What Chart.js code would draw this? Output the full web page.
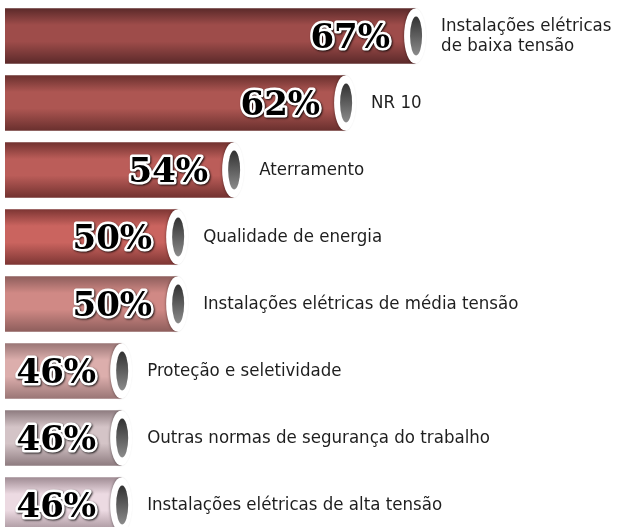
<!DOCTYPE html>
<html>
<head>
<meta charset="utf-8">
<script src="https://cdn.jsdelivr.net/npm/chart.js@4/dist/chart.umd.min.js"></script>
<style>
  html, body { margin: 0; padding: 0; background: #fff; overflow: hidden; }
  #wrap { width: 620px; height: 540px; }
</style>
</head>
<body>
<div id="wrap"><canvas id="chart"></canvas></div>
<script>
const categories = [
  ['Instalações elétricas', 'de baixa tensão'],
  'NR 10',
  'Aterramento',
  'Qualidade de energia',
  'Instalações elétricas de média tensão',
  'Proteção e seletividade',
  'Outras normas de segurança do trabalho',
  'Instalações elétricas de alta tensão'
];
const values = [67, 62, 54, 50, 50, 46, 46, 46];
const valueLabels = ['67%', '62%', '54%', '50%', '50%', '46%', '46%', '46%'];

// tube colours, [edge, middle]
const tubeColors = [
  ['#5c2a2a', '#9e4c4a'],
  ['#6a302e', '#ad5652'],
  ['#733230', '#bb5d59'],
  ['#7e3634', '#ca645f'],
  ['#8e5e5c', '#d08985'],
  ['#9a7676', '#dcaeac'],
  ['#8e7c80', '#d4c4c7'],
  ['#a08c94', '#ecdae2']
];

const BAR_H = 55;
const labelFont = '18.5px "Liberation Sans Narrow", "DejaVu Sans Condensed", sans-serif';
const pctFont = 'bold 34px "DejaVu Serif", "Liberation Serif", serif';

function tubeFill(context) {
  const chart = context.chart;
  const i = context.dataIndex;
  if (i == null || !tubeColors[i]) return tubeColors[0][1];
  const yScale = chart.scales.y;
  const cy = yScale ? yScale.getPixelForValue(i) : NaN;
  if (!isFinite(cy)) return tubeColors[i][1];
  const g = chart.ctx.createLinearGradient(0, cy - BAR_H / 2, 0, cy + BAR_H / 2);
  const [edge, mid] = tubeColors[i];
  g.addColorStop(0, edge);
  g.addColorStop(0.3, mid);
  g.addColorStop(0.6, mid);
  g.addColorStop(1, edge);
  return g;
}

const tubeDecor = {
  id: 'tubeDecor',
  afterDatasetsDraw(chart) {
    const ctx = chart.ctx;
    const meta = chart.getDatasetMeta(0);
    meta.data.forEach((bar, i) => {
      const top = bar.y - BAR_H / 2;
      const left = bar.base;

      // darker left end of the tube
      ctx.save();
      const lg = ctx.createLinearGradient(left, 0, left + 45, 0);
      lg.addColorStop(0, 'rgba(40,10,10,0.45)');
      lg.addColorStop(1, 'rgba(40,10,10,0)');
      ctx.fillStyle = lg;
      ctx.fillRect(left, top, 45, BAR_H);
      ctx.restore();

      // white cap
      ctx.save();
      ctx.beginPath();
      ctx.ellipse(bar.x, bar.y, 11, BAR_H / 2, 0, 0, Math.PI * 2);
      ctx.fillStyle = '#ffffff';
      ctx.shadowColor = 'rgba(0,0,0,0.25)';
      ctx.shadowBlur = 2;
      ctx.shadowOffsetX = -1;
      ctx.fill();
      ctx.restore();

      // dark hole
      ctx.save();
      ctx.beginPath();
      ctx.ellipse(bar.x + 1, bar.y, 6, 19.5, 0, 0, Math.PI * 2);
      const hg = ctx.createLinearGradient(0, bar.y - 19, 0, bar.y + 19);
      hg.addColorStop(0, '#333333');
      hg.addColorStop(1, '#8a8a8a');
      ctx.fillStyle = hg;
      ctx.fill();
      ctx.restore();

      // percentage
      ctx.save();
      ctx.font = pctFont;
      ctx.textAlign = 'right';
      ctx.textBaseline = 'middle';
      ctx.lineJoin = 'round';
      const tx = bar.x - 25;
      const ty = bar.y + 3;
      ctx.shadowColor = 'rgba(0,0,0,0.8)';
      ctx.shadowBlur = 2;
      ctx.shadowOffsetX = 1;
      ctx.shadowOffsetY = 1;
      ctx.strokeStyle = '#ffffff';
      ctx.lineWidth = 5;
      ctx.strokeText(valueLabels[i], tx, ty);
      ctx.shadowColor = 'transparent';
      ctx.fillStyle = '#000000';
      ctx.fillText(valueLabels[i], tx, ty);
      ctx.restore();

      // category label
      ctx.save();
      ctx.font = labelFont;
      ctx.fillStyle = '#1e1e1e';
      ctx.textAlign = 'left';
      ctx.textBaseline = 'middle';
      const lines = Array.isArray(categories[i]) ? categories[i] : [categories[i]];
      const lh = 20;
      lines.forEach((line, k) => {
        ctx.fillText(line, bar.x + 26, bar.y + (k - (lines.length - 1) / 2) * lh);
      });
      ctx.restore();
    });
  }
};

new Chart(document.getElementById('chart'), {
  type: 'bar',
  data: {
    labels: categories,
    datasets: [{
      data: values,
      backgroundColor: tubeFill,
      borderWidth: 0,
      barThickness: BAR_H
    }]
  },
  options: {
    indexAxis: 'y',
    responsive: true,
    maintainAspectRatio: false,
    animation: false,
    layout: { padding: { left: 5, right: 15, top: 2.5, bottom: 1.5 } },
    scales: {
      x: { display: false, min: 37.7, max: 80.57 },
      y: { display: false }
    },
    plugins: {
      legend: { display: false },
      title: { display: false },
      tooltip: { enabled: false }
    }
  },
  plugins: [tubeDecor]
});
</script>
</body>
</html>
